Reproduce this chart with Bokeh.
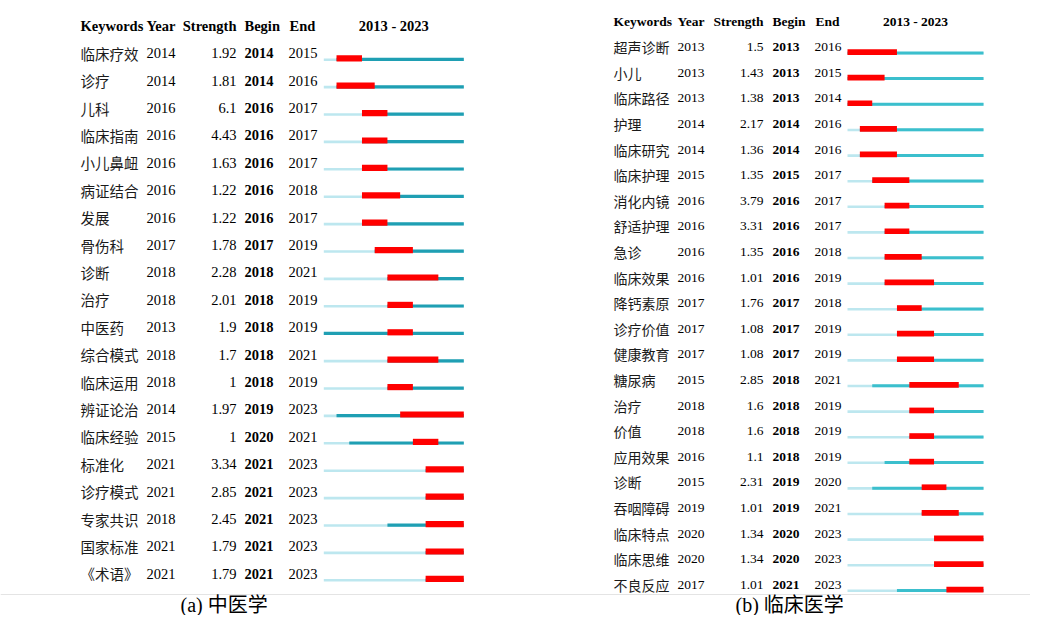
from bokeh.plotting import figure
from bokeh.models import Range1d, ColumnDataSource
from bokeh.core.properties import value
from bokeh.embed import file_html
from bokeh.resources import INLINE

# ---------------- data ----------------
first_year, last_year = 2013, 2023

keywords_a = ["临床疗效", "诊疗", "儿科", "临床指南", "小儿鼻衄", "病证结合", "发展", "骨伤科",
              "诊断", "治疗", "中医药", "综合模式", "临床运用", "辨证论治", "临床经验", "标准化",
              "诊疗模式", "专家共识", "国家标准", "《术语》"]
year_a = [2014, 2014, 2016, 2016, 2016, 2016, 2016, 2017, 2018, 2018, 2013, 2018, 2018,
          2014, 2015, 2021, 2021, 2018, 2021, 2021]
strength_a = ["1.92", "1.81", "6.1", "4.43", "1.63", "1.22", "1.22", "1.78", "2.28", "2.01",
              "1.9", "1.7", "1", "1.97", "1", "3.34", "2.85", "2.45", "1.79", "1.79"]
begin_a = [2014, 2014, 2016, 2016, 2016, 2016, 2016, 2017, 2018, 2018, 2018, 2018, 2018,
           2019, 2020, 2021, 2021, 2021, 2021, 2021]
end_a = [2015, 2016, 2017, 2017, 2017, 2018, 2017, 2019, 2021, 2019, 2019, 2021, 2019,
         2023, 2021, 2023, 2023, 2023, 2023, 2023]

keywords_b = ["超声诊断", "小儿", "临床路径", "护理", "临床研究", "临床护理", "消化内镜", "舒适护理",
              "急诊", "临床效果", "降钙素原", "诊疗价值", "健康教育", "糖尿病", "治疗", "价值",
              "应用效果", "诊断", "吞咽障碍", "临床特点", "临床思维", "不良反应"]
year_b = [2013, 2013, 2013, 2014, 2014, 2015, 2016, 2016, 2016, 2016, 2017, 2017, 2017,
          2015, 2018, 2018, 2016, 2015, 2019, 2020, 2020, 2017]
strength_b = ["1.5", "1.43", "1.38", "2.17", "1.36", "1.35", "3.79", "3.31", "1.35", "1.01",
              "1.76", "1.08", "1.08", "2.85", "1.6", "1.6", "1.1", "2.31", "1.01", "1.34",
              "1.34", "1.01"]
begin_b = [2013, 2013, 2013, 2014, 2014, 2015, 2016, 2016, 2016, 2016, 2017, 2017, 2017,
           2018, 2018, 2018, 2018, 2019, 2019, 2020, 2020, 2021]
end_b = [2016, 2015, 2014, 2016, 2016, 2017, 2017, 2017, 2018, 2019, 2018, 2019, 2019,
         2021, 2019, 2019, 2019, 2020, 2021, 2023, 2023, 2023]

headers = ["Keywords", "Year", "Strength", "Begin", "End"]
range_label = "%d - %d" % (first_year, last_year)
captions = ["(a)  中医学", "(b)  临床医学"]

# ---------------- figure ----------------
W, H = 1030, 615
p = figure(width=W, height=H, x_range=Range1d(0, W), y_range=Range1d(H, 0),
           output_backend="svg", toolbar_location=None, min_border=0,
           x_axis_location=None, y_axis_location=None)
p.grid.visible = False
p.outline_line_color = None
p.background_fill_color = "white"

SERIF = "Liberation Serif"
CJK = "Noto Sans CJK SC"
RED = "#ff0000"
LIGHT = "#bde7ef"


def panel(kw, yr, st, bg, en, cfg):
    n = len(kw)
    x0, x1 = cfg["bar"]
    yw = (x1 - x0) / (last_year - first_year + 1)
    ys = [cfg["row0"] + i * cfg["pitch"] for i in range(n)]
    bot = [y + cfg["off"] for y in ys]
    fs = cfg["fs"]

    # header
    hx = cfg["hx"]
    for h, x in zip(headers, hx):
        align = "right" if h == "Strength" else "left"
        p.text(x=[x], y=[cfg["hy"]], text=[h], text_font=value(SERIF), text_font_style="bold",
               text_font_size=fs, text_baseline="middle", text_align=align, text_color="black")
    p.text(x=[(x0 + x1) / 2], y=[cfg["hy"]], text=[range_label], text_font=value(SERIF),
           text_font_style="bold", text_font_size=fs, text_baseline="middle",
           text_align="center", text_color="black")

    src = ColumnDataSource(dict(
        kw=kw, yr=[str(v) for v in yr], st=st, bg=[str(v) for v in bg], en=[str(v) for v in en],
        y=ys,
        l_left=[x0] * n, l_right=[x0 + (v - first_year) * yw for v in yr],
        t_right=[x1] * n,
        r_left=[x0 + (v - first_year) * yw for v in bg],
        r_right=[x0 + (v - first_year + 1) * yw for v in en],
        lb=bot, lt=[b - cfg["lt"] for b in bot],
        tt=[b - cfg["tt"] for b in bot],
        rb=[b + 0.4 for b in bot], rt=[b - cfg["rt"] for b in bot],
    ))
    cx = cfg["cx"]
    p.text(x=cx[0], y="y", text="kw", source=src, text_font=value(CJK), text_font_size=cfg["cfs"],
           text_baseline="middle", text_align="left", text_color="#1a1a1a")
    p.text(x=cx[1], y="y", text="yr", source=src, text_font=value(SERIF), text_font_size=fs,
           text_baseline="middle", text_align="left", text_color="black")
    p.text(x=cx[2], y="y", text="st", source=src, text_font=value(SERIF), text_font_size=fs,
           text_baseline="middle", text_align="right", text_color="black")
    p.text(x=cx[3], y="y", text="bg", source=src, text_font=value(SERIF), text_font_size=fs,
           text_font_style="bold", text_baseline="middle", text_align="left", text_color="black")
    p.text(x=cx[4], y="y", text="en", source=src, text_font=value(SERIF), text_font_size=fs,
           text_baseline="middle", text_align="left", text_color="black")

    p.quad(left="l_left", right="t_right", top="lt", bottom="lb", source=src,
           fill_color=LIGHT, line_color=None)
    p.quad(left="l_right", right="t_right", top="tt", bottom="lb", source=src,
           fill_color=cfg["teal"], line_color=None)
    p.quad(left="r_left", right="r_right", top="rt", bottom="rb", source=src,
           fill_color=RED, line_color=None)


panel(keywords_a, year_a, strength_a, begin_a, end_a, dict(
    bar=(323.3, 463.3), row0=52.7, pitch=27.4, off=7.8, fs="14.5px", cfs="14.5px",
    hy=25, hx=[80, 146, 236, 244, 289], cx=[80, 146, 236, 244, 288],
    lt=2.6, tt=3.2, rt=5.8, teal="#1f9fb3"))

panel(keywords_b, year_b, strength_b, begin_b, end_b, dict(
    bar=(847, 983), row0=46.7, pitch=25.6, off=7.3, fs="13.5px", cfs="14px",
    hy=21, hx=[613, 677, 763, 772, 815], cx=[613, 677, 763, 772, 814],
    lt=2.6, tt=3.0, rt=5.3, teal="#3bbfcd"))

# separator line
p.line(x=[0, W], y=[594, 594], line_color="#e4e4e4", line_width=1)

# captions
p.text(x=[180, 735], y=[604, 604], text=captions, text_font=value(SERIF + ", " + CJK),
       text_font_size="20px", text_baseline="middle", text_align="left", text_color="black")

open("out.html", "w").write(file_html(p, INLINE))
